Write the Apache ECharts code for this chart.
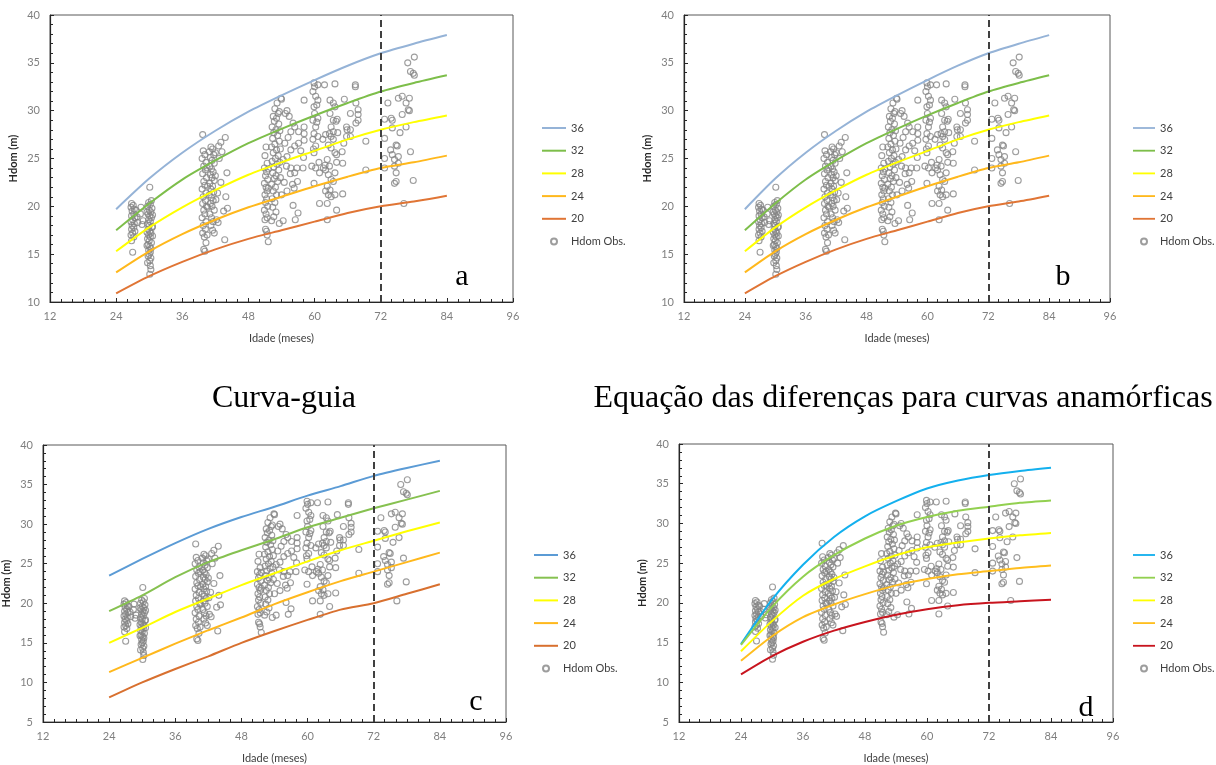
<!DOCTYPE html>
<html>
<head>
<meta charset="utf-8">
<script src="https://cdn.jsdelivr.net/npm/echarts@6/dist/echarts.min.js"></script>
<style>
html, body { margin: 0; padding: 0; background: #fff; }
#chart { width: 1216px; height: 765px; }
</style>
</head>
<body>
<div id="chart"></div>
<script>
// idades das curvas (meses)
var ages = [24, 30, 36, 42, 48, 54, 60, 66, 72, 78, 84];
var indices = ['36', '32', '28', '24', '20'];

// a / b - curva-guia e equacao das diferencas (anamorficas)
var guide36 = [19.7, 22.9, 25.6, 27.9, 29.9, 31.6, 33.2, 34.7, 36.0, 37.0, 37.9];
var guide32 = [17.5, 20.3, 22.8, 24.8, 26.6, 28.1, 29.5, 30.8, 32.0, 32.9, 33.7];
var guide28 = [15.3, 17.8, 19.9, 21.7, 23.3, 24.6, 25.8, 27.0, 28.0, 28.8, 29.5];
var guide24 = [13.1, 15.3, 17.1, 18.6, 19.9, 21.0, 22.1, 23.1, 24.0, 24.6, 25.3];
var guide20 = [10.9, 12.7, 14.2, 15.5, 16.6, 17.5, 18.4, 19.3, 20.0, 20.5, 21.1];

// c
var polyC36 = [23.5, 25.6, 27.6, 29.4, 30.9, 32.2, 33.6, 34.8, 36.1, 37.1, 38.0];
var polyC32 = [19.0, 21.0, 23.3, 25.2, 26.7, 28.1, 29.6, 30.8, 32.0, 33.1, 34.2];
var polyC28 = [15.0, 16.9, 18.9, 20.6, 22.3, 23.8, 25.3, 26.7, 27.9, 29.1, 30.2];
var polyC24 = [11.3, 13.1, 14.9, 16.6, 18.2, 19.9, 21.4, 22.8, 24.0, 25.2, 26.4];
var polyC20 = [8.1, 10.0, 11.7, 13.3, 15.0, 16.5, 17.9, 19.2, 20.0, 21.2, 22.4];

// d
var polyD36 = [14.8, 20.4, 24.8, 28.3, 30.9, 32.8, 34.4, 35.4, 36.1, 36.6, 37.0];
var polyD32 = [14.7, 19.5, 23.3, 26.0, 28.1, 29.7, 30.8, 31.6, 32.1, 32.6, 32.9];
var polyD28 = [13.9, 17.7, 20.9, 23.0, 24.6, 26.0, 27.0, 27.6, 28.1, 28.5, 28.8];
var polyD24 = [12.7, 15.8, 18.2, 19.8, 21.1, 22.2, 23.0, 23.6, 24.0, 24.4, 24.7];
var polyD20 = [11.0, 13.3, 15.1, 16.5, 17.6, 18.5, 19.2, 19.7, 20.0, 20.2, 20.4];

// Hdom observada [idade, hdom]
var obs27 = [[26.8,20.3],[27.1,20.1],[26.7,19.9],[27.3,19.7],[26.9,19.5],[27.2,19.2],[26.8,19.0],[27.4,18.8],[27.0,18.6],[26.7,18.4],[27.3,18.2],[26.9,18.0],[27.2,17.8],[26.8,17.6],[27.4,17.4],[27.0,17.2],[26.7,17.0],[27.2,16.8],[26.8,16.4],[27.0,15.2],[28.5,19.9],[28.4,19.2],[28.9,18.5],[28.7,18.1],[27.8,18.9],[27.9,18.3],[27.6,19.6]];
var obs30 = [[30.1,22.0],[30.4,20.6],[29.9,20.4],[30.2,20.2],[29.7,20.0],[30.5,19.8],[30.0,19.6],[30.3,19.4],[29.8,19.2],[30.1,19.0],[30.4,18.8],[29.9,18.6],[30.2,18.4],[29.7,18.2],[30.0,18.0],[30.5,17.8],[29.8,17.6],[30.1,17.4],[30.3,17.2],[29.9,17.0],[30.2,16.8],[29.7,16.6],[30.0,16.4],[30.4,16.2],[29.8,16.0],[30.1,15.8],[30.3,15.6],[29.9,15.4],[30.2,15.2],[30.0,15.0],[29.8,14.8],[30.3,14.6],[30.1,14.3],[29.7,14.1],[30.2,13.8],[30.3,13.4],[30.1,12.9],[30.6,19.1],[30.6,17.9],[30.6,16.9],[29.6,19.4],[29.6,17.3],[29.6,15.9]];
var obs40 = [[39.7,27.5],[39.8,25.8],[40.1,25.4],[39.6,25.0],[40.3,24.6],[39.9,24.2],[40.2,23.8],[39.7,23.4],[40.4,23.0],[39.9,22.6],[40.1,22.2],[39.6,21.8],[40.3,21.4],[39.8,21.0],[40.2,20.6],[39.7,20.3],[40.4,20.0],[39.9,19.6],[40.1,19.2],[39.6,18.8],[40.3,18.4],[39.8,18.0],[40.2,17.6],[39.7,17.2],[40.0,16.8],[40.3,16.2],[39.9,15.5],[40.1,15.3],[40.5,17.0],[40.6,19.9],[40.6,22.1],[40.5,24.0]];
var obs41 = [[41.2,26.2],[41.5,26.0],[40.9,25.7],[41.7,25.4],[41.1,25.1],[41.4,24.8],[41.8,24.5],[41.0,24.2],[41.3,23.9],[41.6,23.6],[41.1,23.3],[41.4,23.0],[41.8,22.7],[41.0,22.4],[41.5,22.1],[41.2,21.8],[41.7,21.5],[40.9,21.2],[41.3,20.9],[41.6,20.6],[41.1,20.3],[41.4,20.0],[41.8,19.6],[41.0,19.2],[41.3,18.8],[41.6,18.4],[41.2,18.0],[41.5,17.5],[42.0,25.6],[42.0,23.2],[42.1,20.7]];
var obs43 = [[43.0,26.7],[43.8,27.2],[42.6,26.3],[43.2,25.7],[42.7,25.0],[44.1,23.5],[42.4,21.4],[43.9,21.0],[44.2,19.8],[43.5,19.5],[42.2,18.6],[41.8,17.2],[43.7,16.5],[42.5,18.3],[43.0,22.5]];
var obs51 = [[51.2,26.2],[51.0,25.3],[51.4,24.5],[50.9,24.0],[51.3,23.6],[51.1,23.2],[51.5,22.8],[50.9,22.4],[51.2,22.0],[51.4,21.6],[51.0,21.2],[51.3,20.8],[51.1,20.4],[51.5,20.0],[50.9,19.6],[51.2,19.2],[51.4,18.8],[51.0,18.6],[51.1,17.6],[51.3,17.4],[51.4,17.0],[51.6,16.3],[51.6,21.9],[51.6,23.9]];
var obs53 = [[53.9,31.3],[53.2,30.8],[52.8,30.2],[53.4,29.7],[52.5,29.4],[53.1,29.2],[52.7,28.9],[53.5,28.6],[52.3,28.3],[53.0,28.0],[52.6,27.7],[53.3,27.4],[52.4,27.1],[53.6,26.8],[52.8,26.5],[52.2,26.2],[53.1,25.9],[52.5,25.6],[53.4,25.3],[52.9,25.0],[52.3,24.7],[53.2,24.4],[52.6,24.1],[53.5,23.8],[52.4,23.5],[53.0,23.2],[52.7,22.9],[53.3,22.6],[52.2,22.3],[52.9,22.0],[52.5,21.6],[53.1,21.2],[52.3,20.8],[52.8,20.4],[52.4,19.9],[53.0,19.4],[52.6,18.9],[52.2,18.5],[53.7,27.9],[53.8,26.0],[53.7,24.6],[53.8,23.0],[53.6,29.9]];
var obs56 = [[54.0,31.2],[54.7,29.7],[55.0,30.0],[55.4,29.4],[56.1,28.7],[55.7,27.8],[56.4,28.3],[57.1,27.8],[58.1,28.3],[58.1,31.1],[58.1,27.6],[58.1,26.9],[57.1,26.6],[56.4,26.3],[55.7,25.9],[55.0,25.2],[54.3,24.9],[54.9,24.2],[55.7,24.0],[56.8,24.0],[56.4,23.5],[56.9,22.6],[56.0,22.3],[55.0,21.6],[54.0,21.2],[56.3,21.9],[56.1,20.1],[57.0,19.3],[56.5,18.6],[54.3,18.5],[53.6,18.2],[57.5,25.8],[58.0,25.1],[54.6,26.6],[55.2,27.2],[57.9,24.0],[54.5,22.5],[55.6,23.4]];
var obs60 = [[59.9,32.9],[60.0,32.5],[60.6,32.7],[59.7,32.0],[60.2,31.5],[60.6,31.1],[59.9,30.4],[60.4,30.6],[60.0,29.7],[60.6,29.2],[59.7,29.0],[60.2,28.3],[59.9,27.6],[60.6,27.3],[59.7,27.0],[60.2,26.3],[59.9,25.6],[59.5,24.2],[60.2,24.0],[60.9,23.5],[59.9,22.4],[61.6,24.0],[61.9,24.3],[60.9,20.3],[61.5,27.0],[62.0,27.5],[61.8,32.7],[60.4,28.8],[59.8,26.0],[60.8,24.6]];
var obs63 = [[63.7,32.8],[62.8,31.1],[63.4,30.8],[63.7,30.4],[62.8,29.7],[63.4,29.0],[63.9,28.9],[63.0,28.3],[63.4,27.8],[62.7,27.6],[63.0,27.3],[63.4,27.0],[62.5,26.4],[63.0,26.1],[63.7,25.6],[64.0,25.4],[62.3,24.9],[62.7,24.2],[62.0,23.8],[62.5,23.3],[63.0,22.8],[63.4,22.6],[62.3,22.1],[62.8,21.7],[62.5,21.2],[63.0,21.0],[62.0,21.6],[62.3,20.3],[62.3,18.6],[64.0,19.6],[63.7,21.2],[64.0,24.6],[63.7,23.5],[64.2,27.7],[64.1,29.1]];
var obs67 = [[65.4,31.2],[65.8,28.3],[65.9,28.0],[66.5,27.3],[66.5,28.0],[66.5,29.7],[67.4,32.5],[67.4,32.7],[67.5,30.8],[67.9,30.1],[67.9,29.6],[67.9,29.0],[67.5,28.7],[69.3,26.8],[69.3,23.8],[65.1,24.5],[65.3,26.6],[65.1,21.3],[65.8,27.3],[65.0,25.7]];
var obs75 = [[72.7,29.1],[73.3,30.8],[72.7,27.1],[72.7,25.0],[72.7,24.0],[73.9,29.2],[74.1,29.0],[74.1,28.2],[73.8,25.9],[74.1,25.4],[74.8,26.4],[75.0,26.3],[74.5,24.9],[75.2,25.2],[75.2,24.5],[74.5,24.2],[74.8,23.5],[74.5,22.4],[74.8,22.6],[75.5,27.7],[75.9,29.6],[75.2,31.3],[75.9,31.5],[76.6,30.8],[77.0,30.1],[77.2,30.0],[76.6,28.3],[77.2,31.3],[77.4,25.7],[77.9,22.7],[76.2,20.3],[76.9,35.0],[78.1,35.6],[77.4,34.1],[77.9,33.9],[78.1,33.7]];

var hdomObs = [].concat(obs27, obs30, obs40, obs41, obs43, obs51, obs53, obs56, obs60, obs63, obs67, obs75);

var panels = [
	{ key: 'a', curves: [guide36, guide32, guide28, guide24, guide20], ymin: 10,
	  colors: ['#95b3d7', '#7dbe4a', '#ffff00', '#ffb81c', '#e07535'],
	  grid: { left: 50, top: 15, width: 463, height: 287 }, legend: { left: 537, top: 116, w: 24 },
	  letter: [462, 277] },
	{ key: 'b', curves: [guide36, guide32, guide28, guide24, guide20], ymin: 10,
	  colors: ['#95b3d7', '#7dbe4a', '#ffff00', '#ffb81c', '#e07535'],
	  grid: { left: 684, top: 15, width: 426, height: 287 }, legend: { left: 1128, top: 116, w: 22 },
	  letter: [1063, 277] },
	{ key: 'c', curves: [polyC36, polyC32, polyC28, polyC24, polyC20], ymin: 5,
	  colors: ['#5b9bd5', '#86c150', '#ffff00', '#ffb81c', '#d8702f'],
	  grid: { left: 42, top: 445, width: 464, height: 280 }, legend: { left: 529, top: 543, w: 24 },
	  letter: [476, 702] },
	{ key: 'd', curves: [polyD36, polyD32, polyD28, polyD24, polyD20], ymin: 5,
	  colors: ['#13b0ee', '#92d050', '#ffff00', '#ffbe1e', '#c8141e'],
	  grid: { left: 679, top: 444, width: 434, height: 282 }, legend: { left: 1128, top: 543, w: 22 },
	  letter: [1086, 708] }
];

var tickFont = { color: '#7f7f7f', fontSize: 11, fontFamily: 'Lato' };
var lineIcon = 'path://M0,0H12V1H0Z';

var grids = [], xAxes = [], yAxes = [], series = [], legends = [], graphics = [];

panels.forEach(function(p, i) {
	grids.push({
		left: p.grid.left, top: p.grid.top, width: p.grid.width, height: p.grid.height,
		show: true, borderColor: '#595959', borderWidth: 1, backgroundColor: 'transparent'
	});
	xAxes.push({
		gridIndex: i, type: 'value', min: 12, max: 96, interval: 12,
		name: 'Idade (meses)', nameLocation: 'middle', nameGap: 31,
		nameTextStyle: { color: '#404040', fontSize: 11, fontFamily: 'Lato' },
		axisLine: { lineStyle: { color: '#262626', width: 1.2 } },
		axisTick: { inside: true, length: 4, lineStyle: { color: '#262626' } },
		minorTick: { show: true, splitNumber: 6, length: 3, lineStyle: { color: '#262626' } },
		splitLine: { show: false },
		axisLabel: Object.assign({ margin: 9 }, tickFont)
	});
	yAxes.push({
		gridIndex: i, type: 'value', min: p.ymin, max: 40, interval: 5,
		name: 'Hdom (m)', nameLocation: 'middle', nameGap: 31, nameRotate: 90,
		nameTextStyle: { color: '#262626', fontSize: 11, fontWeight: 'bold', fontFamily: 'Lato' },
		axisLine: { show: true, lineStyle: { color: '#262626', width: 1.2 } },
		axisTick: { show: true, inside: true, length: 4, lineStyle: { color: '#262626' } },
		minorTick: { show: true, splitNumber: 5, length: 3, lineStyle: { color: '#262626' } },
		splitLine: { show: false },
		axisLabel: Object.assign({ margin: 10 }, tickFont)
	});

	var names = [];
	p.curves.forEach(function(vals, k) {
		var nm = p.key + '|' + indices[k];
		names.push(nm);
		series.push({
			name: nm, type: 'line', xAxisIndex: i, yAxisIndex: i,
			data: ages.map(function(a, j) { return [a, vals[j]]; }),
			symbol: 'none', smooth: 0.25,
			lineStyle: { color: p.colors[k], width: 2 },
			itemStyle: { color: p.colors[k] },
			z: 3
		});
	});
	var obsName = p.key + '|Hdom Obs.';
	names.push(obsName);
	series.push({
		name: obsName, type: 'scatter', xAxisIndex: i, yAxisIndex: i,
		data: hdomObs, symbol: 'circle', symbolSize: 6,
		itemStyle: { color: 'rgba(255,255,255,0)', borderColor: '#858585', borderWidth: 1.1 },
		z: 2,
		markLine: {
			silent: true, symbol: 'none', animation: false,
			label: { show: false },
			lineStyle: { color: '#404040', type: [7, 4], width: 2 },
			data: [{ xAxis: 72 }]
		}
	});

	legends.push({
		orient: 'vertical', left: p.legend.left, top: p.legend.top,
		itemWidth: p.legend.w, itemHeight: 6, itemGap: 8.7,
		data: names.map(function(n) {
			return n.indexOf('Hdom') >= 0 ? { name: n, icon: 'circle' } : { name: n, icon: lineIcon };
		}),
		formatter: function(n) { return n.split('|')[1]; },
		textStyle: { color: '#404040', fontSize: 11, fontFamily: 'Lato', lineHeight: 14 },
		selectedMode: false
	});

	graphics.push({
		type: 'text', x: p.letter[0], y: p.letter[1],
		style: { text: p.key, font: '30px "Liberation Serif"', fill: '#000', align: 'center', verticalAlign: 'middle' }
	});
});

graphics.push({
	type: 'text', x: 284, y: 399,
	style: { text: 'Curva-guia', font: '32px "Liberation Serif"', fill: '#000', align: 'center', verticalAlign: 'middle' }
});
graphics.push({
	type: 'text', x: 903, y: 399,
	style: { text: 'Equação das diferenças para curvas anamórficas', font: '32px "Liberation Serif"', fill: '#000', align: 'center', verticalAlign: 'middle' }
});

var chart = echarts.init(document.getElementById('chart'));
chart.setOption({
	animation: false,
	backgroundColor: '#fff',
	grid: grids,
	xAxis: xAxes,
	yAxis: yAxes,
	legend: legends,
	series: series,
	graphic: graphics
});
</script>
</body>
</html>
